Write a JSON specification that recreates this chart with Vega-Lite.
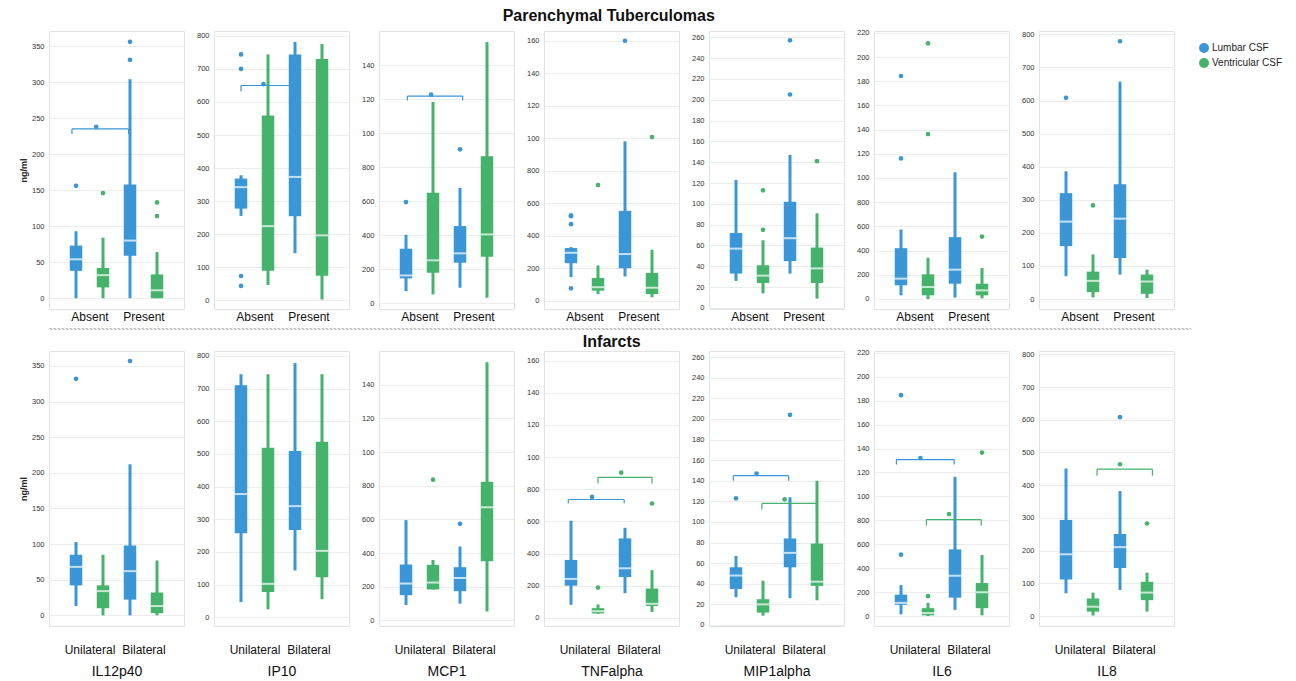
{
"$schema":"https://vega.github.io/schema/vega-lite/v6.json",
"padding":{"left":18,"top":8,"right":5,"bottom":5},
"config":{"font":"Liberation Sans","view":{"stroke":"#e3e3e3"},
 "range":{"category":["#3a96d6","#45b36b"]},
 "axis":{"ticks":false,"domain":false,"labelFontSize":7.5,"labelColor":"#333","gridColor":"#ececec","titleFontSize":9,"titleFontWeight":"bold","titlePadding":3,"labelPadding":5,"titleColor":"#222","labelOverlap":false},
 "legend":{"orient":"none","legendX":1150,"legendY":12,"symbolType":"circle","symbolSize":100,"labelFontSize":10,"labelColor":"#222","rowPadding":5,"symbolStrokeWidth":0,"title":null,"labelOffset":3}
},
"datasets":{"all":[
{"k":"b","cyt":"IL12p40","grp":"PT","cat":"Absent","csf":"Lumbar CSF","lo":0,"q1":38,"med":54,"q3":73,"hi":93},
{"k":"b","cyt":"IL12p40","grp":"PT","cat":"Absent","csf":"Ventricular CSF","lo":0,"q1":15,"med":32,"q3":42,"hi":84},
{"k":"b","cyt":"IL12p40","grp":"PT","cat":"Present","csf":"Lumbar CSF","lo":0,"q1":59,"med":80,"q3":158,"hi":304},
{"k":"b","cyt":"IL12p40","grp":"PT","cat":"Present","csf":"Ventricular CSF","lo":0,"q1":0,"med":11,"q3":33,"hi":64},
{"k":"o","cyt":"IL12p40","grp":"PT","cat":"Absent","csf":"Lumbar CSF","v":156},
{"k":"o","cyt":"IL12p40","grp":"PT","cat":"Absent","csf":"Ventricular CSF","v":146},
{"k":"o","cyt":"IL12p40","grp":"PT","cat":"Present","csf":"Lumbar CSF","v":356},
{"k":"o","cyt":"IL12p40","grp":"PT","cat":"Present","csf":"Lumbar CSF","v":331},
{"k":"o","cyt":"IL12p40","grp":"PT","cat":"Present","csf":"Ventricular CSF","v":133},
{"k":"o","cyt":"IL12p40","grp":"PT","cat":"Present","csf":"Ventricular CSF","v":114},
{"k":"r","cyt":"IL12p40","grp":"PT","csf":"Lumbar CSF","x1":0.85,"x2":2.95,"xs":1.75,"y":235,"ye":228,"ys":238},

{"k":"b","cyt":"IP10","grp":"PT","cat":"Absent","csf":"Lumbar CSF","lo":255,"q1":277,"med":342,"q3":368,"hi":378},
{"k":"b","cyt":"IP10","grp":"PT","cat":"Absent","csf":"Ventricular CSF","lo":46,"q1":89,"med":224,"q3":559,"hi":744},
{"k":"b","cyt":"IP10","grp":"PT","cat":"Present","csf":"Lumbar CSF","lo":142,"q1":254,"med":373,"q3":744,"hi":782},
{"k":"b","cyt":"IP10","grp":"PT","cat":"Present","csf":"Ventricular CSF","lo":2,"q1":74,"med":196,"q3":730,"hi":776},
{"k":"o","cyt":"IP10","grp":"PT","cat":"Absent","csf":"Lumbar CSF","v":744},
{"k":"o","cyt":"IP10","grp":"PT","cat":"Absent","csf":"Lumbar CSF","v":700},
{"k":"o","cyt":"IP10","grp":"PT","cat":"Absent","csf":"Lumbar CSF","v":73},
{"k":"o","cyt":"IP10","grp":"PT","cat":"Absent","csf":"Lumbar CSF","v":43},
{"k":"r","cyt":"IP10","grp":"PT","csf":"Lumbar CSF","x1":1.0,"x2":3.0,"xs":1.83,"y":650,"ye":632,"ys":654},

{"k":"b","cyt":"MCP1","grp":"PT","cat":"Absent","csf":"Lumbar CSF","lo":72,"q1":147,"med":164,"q3":321,"hi":403},
{"k":"b","cyt":"MCP1","grp":"PT","cat":"Absent","csf":"Ventricular CSF","lo":53,"q1":180,"med":253,"q3":650,"hi":1183},
{"k":"b","cyt":"MCP1","grp":"PT","cat":"Present","csf":"Lumbar CSF","lo":92,"q1":239,"med":294,"q3":454,"hi":679},
{"k":"b","cyt":"MCP1","grp":"PT","cat":"Present","csf":"Ventricular CSF","lo":33,"q1":274,"med":405,"q3":865,"hi":1535},
{"k":"o","cyt":"MCP1","grp":"PT","cat":"Absent","csf":"Lumbar CSF","v":595},
{"k":"o","cyt":"MCP1","grp":"PT","cat":"Present","csf":"Lumbar CSF","v":905},
{"k":"r","cyt":"MCP1","grp":"PT","csf":"Lumbar CSF","x1":1.05,"x2":3.1,"xs":1.93,"y":1218,"ye":1192,"ys":1226},

{"k":"b","cyt":"TNFalpha","grp":"PT","cat":"Absent","csf":"Lumbar CSF","lo":145,"q1":231,"med":295,"q3":324,"hi":330},
{"k":"b","cyt":"TNFalpha","grp":"PT","cat":"Absent","csf":"Ventricular CSF","lo":41,"q1":62,"med":83,"q3":140,"hi":217},
{"k":"b","cyt":"TNFalpha","grp":"PT","cat":"Present","csf":"Lumbar CSF","lo":149,"q1":200,"med":287,"q3":553,"hi":981},
{"k":"b","cyt":"TNFalpha","grp":"PT","cat":"Present","csf":"Ventricular CSF","lo":21,"q1":41,"med":80,"q3":171,"hi":314},
{"k":"o","cyt":"TNFalpha","grp":"PT","cat":"Absent","csf":"Lumbar CSF","v":520},
{"k":"o","cyt":"TNFalpha","grp":"PT","cat":"Absent","csf":"Lumbar CSF","v":526},
{"k":"o","cyt":"TNFalpha","grp":"PT","cat":"Absent","csf":"Lumbar CSF","v":471},
{"k":"o","cyt":"TNFalpha","grp":"PT","cat":"Absent","csf":"Lumbar CSF","v":76},
{"k":"o","cyt":"TNFalpha","grp":"PT","cat":"Absent","csf":"Ventricular CSF","v":712},
{"k":"o","cyt":"TNFalpha","grp":"PT","cat":"Present","csf":"Lumbar CSF","v":1600},
{"k":"o","cyt":"TNFalpha","grp":"PT","cat":"Present","csf":"Ventricular CSF","v":1007},

{"k":"b","cyt":"MIP1alpha","grp":"PT","cat":"Absent","csf":"Lumbar CSF","lo":26,"q1":33,"med":57,"q3":72,"hi":123},
{"k":"b","cyt":"MIP1alpha","grp":"PT","cat":"Absent","csf":"Ventricular CSF","lo":14,"q1":24,"med":31,"q3":41,"hi":65},
{"k":"b","cyt":"MIP1alpha","grp":"PT","cat":"Present","csf":"Lumbar CSF","lo":33,"q1":45,"med":67,"q3":102,"hi":147},
{"k":"b","cyt":"MIP1alpha","grp":"PT","cat":"Present","csf":"Ventricular CSF","lo":9,"q1":24,"med":38,"q3":58,"hi":91},
{"k":"o","cyt":"MIP1alpha","grp":"PT","cat":"Absent","csf":"Ventricular CSF","v":113},
{"k":"o","cyt":"MIP1alpha","grp":"PT","cat":"Absent","csf":"Ventricular CSF","v":75},
{"k":"o","cyt":"MIP1alpha","grp":"PT","cat":"Present","csf":"Lumbar CSF","v":257},
{"k":"o","cyt":"MIP1alpha","grp":"PT","cat":"Present","csf":"Lumbar CSF","v":205},
{"k":"o","cyt":"MIP1alpha","grp":"PT","cat":"Present","csf":"Ventricular CSF","v":141},

{"k":"b","cyt":"IL6","grp":"PT","cat":"Absent","csf":"Lumbar CSF","lo":30,"q1":113,"med":168,"q3":420,"hi":574},
{"k":"b","cyt":"IL6","grp":"PT","cat":"Absent","csf":"Ventricular CSF","lo":0,"q1":30,"med":99,"q3":203,"hi":341},
{"k":"b","cyt":"IL6","grp":"PT","cat":"Present","csf":"Lumbar CSF","lo":11,"q1":126,"med":242,"q3":511,"hi":1047},
{"k":"b","cyt":"IL6","grp":"PT","cat":"Present","csf":"Ventricular CSF","lo":5,"q1":30,"med":71,"q3":126,"hi":255},
{"k":"o","cyt":"IL6","grp":"PT","cat":"Absent","csf":"Lumbar CSF","v":1843},
{"k":"o","cyt":"IL6","grp":"PT","cat":"Absent","csf":"Lumbar CSF","v":1162},
{"k":"o","cyt":"IL6","grp":"PT","cat":"Absent","csf":"Ventricular CSF","v":2113},
{"k":"o","cyt":"IL6","grp":"PT","cat":"Absent","csf":"Ventricular CSF","v":1363},
{"k":"o","cyt":"IL6","grp":"PT","cat":"Present","csf":"Ventricular CSF","v":516},

{"k":"b","cyt":"IL8","grp":"PT","cat":"Absent","csf":"Lumbar CSF","lo":69,"q1":160,"med":234,"q3":320,"hi":386},
{"k":"b","cyt":"IL8","grp":"PT","cat":"Absent","csf":"Ventricular CSF","lo":5,"q1":21,"med":55,"q3":83,"hi":135},
{"k":"b","cyt":"IL8","grp":"PT","cat":"Present","csf":"Lumbar CSF","lo":74,"q1":124,"med":243,"q3":347,"hi":657},
{"k":"b","cyt":"IL8","grp":"PT","cat":"Present","csf":"Ventricular CSF","lo":3,"q1":16,"med":53,"q3":74,"hi":89},
{"k":"o","cyt":"IL8","grp":"PT","cat":"Absent","csf":"Lumbar CSF","v":608},
{"k":"o","cyt":"IL8","grp":"PT","cat":"Absent","csf":"Ventricular CSF","v":283},
{"k":"o","cyt":"IL8","grp":"PT","cat":"Present","csf":"Lumbar CSF","v":779},

{"k":"b","cyt":"IL12p40","grp":"INF","cat":"Unilateral","csf":"Lumbar CSF","lo":13,"q1":42,"med":68,"q3":85,"hi":103},
{"k":"b","cyt":"IL12p40","grp":"INF","cat":"Unilateral","csf":"Ventricular CSF","lo":0,"q1":10,"med":34,"q3":42,"hi":85},
{"k":"b","cyt":"IL12p40","grp":"INF","cat":"Bilateral","csf":"Lumbar CSF","lo":0,"q1":22,"med":62,"q3":98,"hi":212},
{"k":"b","cyt":"IL12p40","grp":"INF","cat":"Bilateral","csf":"Ventricular CSF","lo":0,"q1":3,"med":13,"q3":32,"hi":77},
{"k":"o","cyt":"IL12p40","grp":"INF","cat":"Unilateral","csf":"Lumbar CSF","v":332},
{"k":"o","cyt":"IL12p40","grp":"INF","cat":"Bilateral","csf":"Lumbar CSF","v":357},

{"k":"b","cyt":"IP10","grp":"INF","cat":"Unilateral","csf":"Lumbar CSF","lo":46,"q1":257,"med":377,"q3":710,"hi":744},
{"k":"b","cyt":"IP10","grp":"INF","cat":"Unilateral","csf":"Ventricular CSF","lo":24,"q1":77,"med":102,"q3":519,"hi":744},
{"k":"b","cyt":"IP10","grp":"INF","cat":"Bilateral","csf":"Lumbar CSF","lo":143,"q1":267,"med":340,"q3":509,"hi":778},
{"k":"b","cyt":"IP10","grp":"INF","cat":"Bilateral","csf":"Ventricular CSF","lo":55,"q1":122,"med":203,"q3":537,"hi":744},

{"k":"b","cyt":"MCP1","grp":"INF","cat":"Unilateral","csf":"Lumbar CSF","lo":92,"q1":150,"med":219,"q3":332,"hi":596},
{"k":"b","cyt":"MCP1","grp":"INF","cat":"Unilateral","csf":"Ventricular CSF","lo":184,"q1":184,"med":225,"q3":330,"hi":359},
{"k":"b","cyt":"MCP1","grp":"INF","cat":"Bilateral","csf":"Lumbar CSF","lo":100,"q1":174,"med":252,"q3":316,"hi":439},
{"k":"b","cyt":"MCP1","grp":"INF","cat":"Bilateral","csf":"Ventricular CSF","lo":53,"q1":351,"med":672,"q3":824,"hi":1533},
{"k":"o","cyt":"MCP1","grp":"INF","cat":"Unilateral","csf":"Ventricular CSF","v":836},
{"k":"o","cyt":"MCP1","grp":"INF","cat":"Bilateral","csf":"Lumbar CSF","v":574},

{"k":"b","cyt":"TNFalpha","grp":"INF","cat":"Unilateral","csf":"Lumbar CSF","lo":81,"q1":200,"med":242,"q3":360,"hi":604},
{"k":"b","cyt":"TNFalpha","grp":"INF","cat":"Unilateral","csf":"Ventricular CSF","lo":25,"q1":27,"med":41,"q3":60,"hi":83},
{"k":"b","cyt":"TNFalpha","grp":"INF","cat":"Bilateral","csf":"Lumbar CSF","lo":153,"q1":254,"med":308,"q3":494,"hi":560},
{"k":"b","cyt":"TNFalpha","grp":"INF","cat":"Bilateral","csf":"Ventricular CSF","lo":37,"q1":74,"med":87,"q3":182,"hi":296},
{"k":"o","cyt":"TNFalpha","grp":"INF","cat":"Unilateral","csf":"Ventricular CSF","v":188},
{"k":"o","cyt":"TNFalpha","grp":"INF","cat":"Bilateral","csf":"Ventricular CSF","v":711},
{"k":"r","cyt":"TNFalpha","grp":"INF","csf":"Lumbar CSF","x1":0.9,"x2":2.97,"xs":1.78,"y":736,"ye":713,"ys":752},
{"k":"r","cyt":"TNFalpha","grp":"INF","csf":"Ventricular CSF","x1":2.0,"x2":4.0,"xs":2.86,"y":874,"ye":835,"ys":903},

{"k":"b","cyt":"MIP1alpha","grp":"INF","cat":"Unilateral","csf":"Lumbar CSF","lo":27,"q1":35,"med":48,"q3":56,"hi":67},
{"k":"b","cyt":"MIP1alpha","grp":"INF","cat":"Unilateral","csf":"Ventricular CSF","lo":9,"q1":12,"med":20,"q3":25,"hi":43},
{"k":"b","cyt":"MIP1alpha","grp":"INF","cat":"Bilateral","csf":"Lumbar CSF","lo":26,"q1":56,"med":70,"q3":84,"hi":124},
{"k":"b","cyt":"MIP1alpha","grp":"INF","cat":"Bilateral","csf":"Ventricular CSF","lo":24,"q1":38,"med":42,"q3":79,"hi":140},
{"k":"o","cyt":"MIP1alpha","grp":"INF","cat":"Unilateral","csf":"Lumbar CSF","v":123},
{"k":"o","cyt":"MIP1alpha","grp":"INF","cat":"Bilateral","csf":"Lumbar CSF","v":204},
{"k":"r","cyt":"MIP1alpha","grp":"INF","csf":"Lumbar CSF","x1":0.9,"x2":2.95,"xs":1.76,"y":145,"ye":140,"ys":147},
{"k":"r","cyt":"MIP1alpha","grp":"INF","csf":"Ventricular CSF","x1":1.96,"x2":3.98,"xs":2.8,"y":118,"ye":112,"ys":122},

{"k":"b","cyt":"IL6","grp":"INF","cat":"Unilateral","csf":"Lumbar CSF","lo":14,"q1":94,"med":110,"q3":179,"hi":259},
{"k":"b","cyt":"IL6","grp":"INF","cat":"Unilateral","csf":"Ventricular CSF","lo":0,"q1":6,"med":25,"q3":66,"hi":110},
{"k":"b","cyt":"IL6","grp":"INF","cat":"Bilateral","csf":"Lumbar CSF","lo":52,"q1":154,"med":337,"q3":557,"hi":1164},
{"k":"b","cyt":"IL6","grp":"INF","cat":"Bilateral","csf":"Ventricular CSF","lo":6,"q1":66,"med":199,"q3":276,"hi":510},
{"k":"o","cyt":"IL6","grp":"INF","cat":"Unilateral","csf":"Lumbar CSF","v":1846},
{"k":"o","cyt":"IL6","grp":"INF","cat":"Unilateral","csf":"Lumbar CSF","v":513},
{"k":"o","cyt":"IL6","grp":"INF","cat":"Unilateral","csf":"Ventricular CSF","v":166},
{"k":"o","cyt":"IL6","grp":"INF","cat":"Bilateral","csf":"Ventricular CSF","v":1366},
{"k":"r","cyt":"IL6","grp":"INF","csf":"Lumbar CSF","x1":0.83,"x2":2.97,"xs":1.72,"y":1308,"ye":1266,"ys":1321},
{"k":"r","cyt":"IL6","grp":"INF","csf":"Ventricular CSF","x1":1.94,"x2":3.97,"xs":2.78,"y":806,"ye":756,"ys":852},

{"k":"b","cyt":"IL8","grp":"INF","cat":"Unilateral","csf":"Lumbar CSF","lo":70,"q1":112,"med":189,"q3":294,"hi":451},
{"k":"b","cyt":"IL8","grp":"INF","cat":"Unilateral","csf":"Ventricular CSF","lo":2,"q1":14,"med":29,"q3":54,"hi":72},
{"k":"b","cyt":"IL8","grp":"INF","cat":"Bilateral","csf":"Lumbar CSF","lo":80,"q1":147,"med":211,"q3":251,"hi":382},
{"k":"b","cyt":"IL8","grp":"INF","cat":"Bilateral","csf":"Ventricular CSF","lo":14,"q1":49,"med":72,"q3":105,"hi":133},
{"k":"o","cyt":"IL8","grp":"INF","cat":"Bilateral","csf":"Lumbar CSF","v":608},
{"k":"o","cyt":"IL8","grp":"INF","cat":"Bilateral","csf":"Ventricular CSF","v":283},
{"k":"r","cyt":"IL8","grp":"INF","csf":"Ventricular CSF","x1":2.15,"x2":4.2,"xs":3.0,"y":449,"ye":429,"ys":464}
]},
"data":{"name":"all"},
"resolve":{"scale":{"x":"independent","y":"independent","color":"shared"}},
"spacing":2,
"vconcat":[
{"title":{"text":"Parenchymal Tuberculomas","fontSize":16,"fontWeight":"bold","anchor":"middle","offset":4,"dx":12,"color":"#111"},
 "resolve":{"scale":{"x":"independent","y":"independent","color":"shared"}},
 "spacing":10,
 "hconcat":[
 {"width":135,"height":278,
  "transform":[{"filter":"datum.cyt=='IL12p40'&&datum.grp=='PT'"},{"calculate":"(datum.cat=='Absent'||datum.cat=='Unilateral'?1:3)+(datum.csf=='Ventricular CSF'?1:0)","as":"slot"}],
  "layer":[
   {"transform":[{"filter":"datum.k=='b'"}],"mark":{"type":"bar","size":12.5},"encoding":{"x":{"field":"slot","type":"quantitative","scale":{"domain":[0.25,4.75]},"axis":{"values":[1.5,3.5],"labelExpr":"datum.value<2?'Absent':'Present'","title":null,"grid":false,"labelFontSize":12,"labelPadding":2,"labelColor":"#111","labelOverlap":false,"labelFlush":false}},"y":{"field":"q1","type":"quantitative","scale":{"domain":[-15,371],"nice":false,"zero":false},"axis":{"values":[0,50,100,150,200,250,300,350],"title":"ng/ml","labelOverlap":false,"tickCount":30}},"y2":{"field":"q3"},"color":{"field":"csf","type":"nominal","title":null}}},
   {"transform":[{"filter":"datum.k=='b'"}],"mark":{"type":"rule","strokeWidth":3},"encoding":{"x":{"field":"slot","type":"quantitative"},"y":{"field":"lo","type":"quantitative"},"y2":{"field":"hi"},"color":{"field":"csf","type":"nominal","title":null}}},
   {"transform":[{"filter":"datum.k=='b'"}],"mark":{"type":"tick","orient":"horizontal","color":"white","thickness":2,"size":12.5},"encoding":{"x":{"field":"slot","type":"quantitative"},"y":{"field":"med","type":"quantitative"}}},
   {"transform":[{"filter":"datum.k=='o'"}],"mark":{"type":"circle","size":22,"opacity":1},"encoding":{"x":{"field":"slot","type":"quantitative"},"y":{"field":"v","type":"quantitative"},"color":{"field":"csf","type":"nominal","title":null}}},
   {"transform":[{"filter":"datum.k=='r'"}],"mark":{"type":"rule","strokeWidth":1.2},"encoding":{"x":{"field":"x1","type":"quantitative"},"x2":{"field":"x2"},"y":{"field":"y","type":"quantitative"},"color":{"field":"csf","type":"nominal","title":null}}},
   {"transform":[{"filter":"datum.k=='r'"}],"mark":{"type":"rule","strokeWidth":1.2},"encoding":{"x":{"field":"x1","type":"quantitative"},"y":{"field":"y","type":"quantitative"},"y2":{"field":"ye"},"color":{"field":"csf","type":"nominal","title":null}}},
   {"transform":[{"filter":"datum.k=='r'"}],"mark":{"type":"rule","strokeWidth":1.2},"encoding":{"x":{"field":"x2","type":"quantitative"},"y":{"field":"y","type":"quantitative"},"y2":{"field":"ye"},"color":{"field":"csf","type":"nominal","title":null}}},
   {"transform":[{"filter":"datum.k=='r'"}],"mark":{"type":"circle","size":22,"opacity":1},"encoding":{"x":{"field":"xs","type":"quantitative"},"y":{"field":"ys","type":"quantitative"},"color":{"field":"csf","type":"nominal","title":null}}}
  ]},
 {"width":135,"height":278,
  "transform":[{"filter":"datum.cyt=='IP10'&&datum.grp=='PT'"},{"calculate":"(datum.cat=='Absent'||datum.cat=='Unilateral'?1:3)+(datum.csf=='Ventricular CSF'?1:0)","as":"slot"}],
  "layer":[
   {"transform":[{"filter":"datum.k=='b'"}],"mark":{"type":"bar","size":12.5},"encoding":{"x":{"field":"slot","type":"quantitative","scale":{"domain":[0.25,4.75]},"axis":{"values":[1.5,3.5],"labelExpr":"datum.value<2?'Absent':'Present'","title":null,"grid":false,"labelFontSize":12,"labelPadding":2,"labelColor":"#111","labelOverlap":false,"labelFlush":false}},"y":{"field":"q1","type":"quantitative","scale":{"domain":[-27,815],"nice":false,"zero":false},"axis":{"values":[0,100,200,300,400,500,600,700,800],"title":null,"labelOverlap":false,"tickCount":30}},"y2":{"field":"q3"},"color":{"field":"csf","type":"nominal","title":null}}},
   {"transform":[{"filter":"datum.k=='b'"}],"mark":{"type":"rule","strokeWidth":3},"encoding":{"x":{"field":"slot","type":"quantitative"},"y":{"field":"lo","type":"quantitative"},"y2":{"field":"hi"},"color":{"field":"csf","type":"nominal","title":null}}},
   {"transform":[{"filter":"datum.k=='b'"}],"mark":{"type":"tick","orient":"horizontal","color":"white","thickness":2,"size":12.5},"encoding":{"x":{"field":"slot","type":"quantitative"},"y":{"field":"med","type":"quantitative"}}},
   {"transform":[{"filter":"datum.k=='o'"}],"mark":{"type":"circle","size":22,"opacity":1},"encoding":{"x":{"field":"slot","type":"quantitative"},"y":{"field":"v","type":"quantitative"},"color":{"field":"csf","type":"nominal","title":null}}},
   {"transform":[{"filter":"datum.k=='r'"}],"mark":{"type":"rule","strokeWidth":1.2},"encoding":{"x":{"field":"x1","type":"quantitative"},"x2":{"field":"x2"},"y":{"field":"y","type":"quantitative"},"color":{"field":"csf","type":"nominal","title":null}}},
   {"transform":[{"filter":"datum.k=='r'"}],"mark":{"type":"rule","strokeWidth":1.2},"encoding":{"x":{"field":"x1","type":"quantitative"},"y":{"field":"y","type":"quantitative"},"y2":{"field":"ye"},"color":{"field":"csf","type":"nominal","title":null}}},
   {"transform":[{"filter":"datum.k=='r'"}],"mark":{"type":"rule","strokeWidth":1.2},"encoding":{"x":{"field":"x2","type":"quantitative"},"y":{"field":"y","type":"quantitative"},"y2":{"field":"ye"},"color":{"field":"csf","type":"nominal","title":null}}},
   {"transform":[{"filter":"datum.k=='r'"}],"mark":{"type":"circle","size":22,"opacity":1},"encoding":{"x":{"field":"xs","type":"quantitative"},"y":{"field":"ys","type":"quantitative"},"color":{"field":"csf","type":"nominal","title":null}}}
  ]},
 {"width":135,"height":278,
  "transform":[{"filter":"datum.cyt=='MCP1'&&datum.grp=='PT'"},{"calculate":"(datum.cat=='Absent'||datum.cat=='Unilateral'?1:3)+(datum.csf=='Ventricular CSF'?1:0)","as":"slot"}],
  "layer":[
   {"transform":[{"filter":"datum.k=='b'"}],"mark":{"type":"bar","size":12.5},"encoding":{"x":{"field":"slot","type":"quantitative","scale":{"domain":[0.25,4.75]},"axis":{"values":[1.5,3.5],"labelExpr":"datum.value<2?'Absent':'Present'","title":null,"grid":false,"labelFontSize":12,"labelPadding":2,"labelColor":"#111","labelOverlap":false,"labelFlush":false}},"y":{"field":"q1","type":"quantitative","scale":{"domain":[-33,1600],"nice":false,"zero":false},"axis":{"values":[0,200,400,600,800,1000,1200,1400],"labelExpr":"datum.value>=1000?substring(toString(datum.value),0,3):datum.label","title":null,"labelOverlap":false,"tickCount":30}},"y2":{"field":"q3"},"color":{"field":"csf","type":"nominal","title":null}}},
   {"transform":[{"filter":"datum.k=='b'"}],"mark":{"type":"rule","strokeWidth":3},"encoding":{"x":{"field":"slot","type":"quantitative"},"y":{"field":"lo","type":"quantitative"},"y2":{"field":"hi"},"color":{"field":"csf","type":"nominal","title":null}}},
   {"transform":[{"filter":"datum.k=='b'"}],"mark":{"type":"tick","orient":"horizontal","color":"white","thickness":2,"size":12.5},"encoding":{"x":{"field":"slot","type":"quantitative"},"y":{"field":"med","type":"quantitative"}}},
   {"transform":[{"filter":"datum.k=='o'"}],"mark":{"type":"circle","size":22,"opacity":1},"encoding":{"x":{"field":"slot","type":"quantitative"},"y":{"field":"v","type":"quantitative"},"color":{"field":"csf","type":"nominal","title":null}}},
   {"transform":[{"filter":"datum.k=='r'"}],"mark":{"type":"rule","strokeWidth":1.2},"encoding":{"x":{"field":"x1","type":"quantitative"},"x2":{"field":"x2"},"y":{"field":"y","type":"quantitative"},"color":{"field":"csf","type":"nominal","title":null}}},
   {"transform":[{"filter":"datum.k=='r'"}],"mark":{"type":"rule","strokeWidth":1.2},"encoding":{"x":{"field":"x1","type":"quantitative"},"y":{"field":"y","type":"quantitative"},"y2":{"field":"ye"},"color":{"field":"csf","type":"nominal","title":null}}},
   {"transform":[{"filter":"datum.k=='r'"}],"mark":{"type":"rule","strokeWidth":1.2},"encoding":{"x":{"field":"x2","type":"quantitative"},"y":{"field":"y","type":"quantitative"},"y2":{"field":"ye"},"color":{"field":"csf","type":"nominal","title":null}}},
   {"transform":[{"filter":"datum.k=='r'"}],"mark":{"type":"circle","size":22,"opacity":1},"encoding":{"x":{"field":"xs","type":"quantitative"},"y":{"field":"ys","type":"quantitative"},"color":{"field":"csf","type":"nominal","title":null}}}
  ]},
 {"width":135,"height":278,
  "transform":[{"filter":"datum.cyt=='TNFalpha'&&datum.grp=='PT'"},{"calculate":"(datum.cat=='Absent'||datum.cat=='Unilateral'?1:3)+(datum.csf=='Ventricular CSF'?1:0)","as":"slot"}],
  "layer":[
   {"transform":[{"filter":"datum.k=='b'"}],"mark":{"type":"bar","size":12.5},"encoding":{"x":{"field":"slot","type":"quantitative","scale":{"domain":[0.25,4.75]},"axis":{"values":[1.5,3.5],"labelExpr":"datum.value<2?'Absent':'Present'","title":null,"grid":false,"labelFontSize":12,"labelPadding":2,"labelColor":"#111","labelOverlap":false,"labelFlush":false}},"y":{"field":"q1","type":"quantitative","scale":{"domain":[-51,1660],"nice":false,"zero":false},"axis":{"values":[0,200,400,600,800,1000,1200,1400,1600],"labelExpr":"datum.value>=1000?substring(toString(datum.value),0,3):datum.label","title":null,"labelOverlap":false,"tickCount":30}},"y2":{"field":"q3"},"color":{"field":"csf","type":"nominal","title":null}}},
   {"transform":[{"filter":"datum.k=='b'"}],"mark":{"type":"rule","strokeWidth":3},"encoding":{"x":{"field":"slot","type":"quantitative"},"y":{"field":"lo","type":"quantitative"},"y2":{"field":"hi"},"color":{"field":"csf","type":"nominal","title":null}}},
   {"transform":[{"filter":"datum.k=='b'"}],"mark":{"type":"tick","orient":"horizontal","color":"white","thickness":2,"size":12.5},"encoding":{"x":{"field":"slot","type":"quantitative"},"y":{"field":"med","type":"quantitative"}}},
   {"transform":[{"filter":"datum.k=='o'"}],"mark":{"type":"circle","size":22,"opacity":1},"encoding":{"x":{"field":"slot","type":"quantitative"},"y":{"field":"v","type":"quantitative"},"color":{"field":"csf","type":"nominal","title":null}}},
   {"transform":[{"filter":"datum.k=='r'"}],"mark":{"type":"rule","strokeWidth":1.2},"encoding":{"x":{"field":"x1","type":"quantitative"},"x2":{"field":"x2"},"y":{"field":"y","type":"quantitative"},"color":{"field":"csf","type":"nominal","title":null}}},
   {"transform":[{"filter":"datum.k=='r'"}],"mark":{"type":"rule","strokeWidth":1.2},"encoding":{"x":{"field":"x1","type":"quantitative"},"y":{"field":"y","type":"quantitative"},"y2":{"field":"ye"},"color":{"field":"csf","type":"nominal","title":null}}},
   {"transform":[{"filter":"datum.k=='r'"}],"mark":{"type":"rule","strokeWidth":1.2},"encoding":{"x":{"field":"x2","type":"quantitative"},"y":{"field":"y","type":"quantitative"},"y2":{"field":"ye"},"color":{"field":"csf","type":"nominal","title":null}}},
   {"transform":[{"filter":"datum.k=='r'"}],"mark":{"type":"circle","size":22,"opacity":1},"encoding":{"x":{"field":"xs","type":"quantitative"},"y":{"field":"ys","type":"quantitative"},"color":{"field":"csf","type":"nominal","title":null}}}
  ]},
 {"width":135,"height":278,
  "transform":[{"filter":"datum.cyt=='MIP1alpha'&&datum.grp=='PT'"},{"calculate":"(datum.cat=='Absent'||datum.cat=='Unilateral'?1:3)+(datum.csf=='Ventricular CSF'?1:0)","as":"slot"}],
  "layer":[
   {"transform":[{"filter":"datum.k=='b'"}],"mark":{"type":"bar","size":12.5},"encoding":{"x":{"field":"slot","type":"quantitative","scale":{"domain":[0.25,4.75]},"axis":{"values":[1.5,3.5],"labelExpr":"datum.value<2?'Absent':'Present'","title":null,"grid":false,"labelFontSize":12,"labelPadding":2,"labelColor":"#111","labelOverlap":false,"labelFlush":false}},"y":{"field":"q1","type":"quantitative","scale":{"domain":[-1,266],"nice":false,"zero":false},"axis":{"values":[0,20,40,60,80,100,120,140,160,180,200,220,240,260],"title":null,"labelOverlap":false,"tickCount":30}},"y2":{"field":"q3"},"color":{"field":"csf","type":"nominal","title":null}}},
   {"transform":[{"filter":"datum.k=='b'"}],"mark":{"type":"rule","strokeWidth":3},"encoding":{"x":{"field":"slot","type":"quantitative"},"y":{"field":"lo","type":"quantitative"},"y2":{"field":"hi"},"color":{"field":"csf","type":"nominal","title":null}}},
   {"transform":[{"filter":"datum.k=='b'"}],"mark":{"type":"tick","orient":"horizontal","color":"white","thickness":2,"size":12.5},"encoding":{"x":{"field":"slot","type":"quantitative"},"y":{"field":"med","type":"quantitative"}}},
   {"transform":[{"filter":"datum.k=='o'"}],"mark":{"type":"circle","size":22,"opacity":1},"encoding":{"x":{"field":"slot","type":"quantitative"},"y":{"field":"v","type":"quantitative"},"color":{"field":"csf","type":"nominal","title":null}}},
   {"transform":[{"filter":"datum.k=='r'"}],"mark":{"type":"rule","strokeWidth":1.2},"encoding":{"x":{"field":"x1","type":"quantitative"},"x2":{"field":"x2"},"y":{"field":"y","type":"quantitative"},"color":{"field":"csf","type":"nominal","title":null}}},
   {"transform":[{"filter":"datum.k=='r'"}],"mark":{"type":"rule","strokeWidth":1.2},"encoding":{"x":{"field":"x1","type":"quantitative"},"y":{"field":"y","type":"quantitative"},"y2":{"field":"ye"},"color":{"field":"csf","type":"nominal","title":null}}},
   {"transform":[{"filter":"datum.k=='r'"}],"mark":{"type":"rule","strokeWidth":1.2},"encoding":{"x":{"field":"x2","type":"quantitative"},"y":{"field":"y","type":"quantitative"},"y2":{"field":"ye"},"color":{"field":"csf","type":"nominal","title":null}}},
   {"transform":[{"filter":"datum.k=='r'"}],"mark":{"type":"circle","size":22,"opacity":1},"encoding":{"x":{"field":"xs","type":"quantitative"},"y":{"field":"ys","type":"quantitative"},"color":{"field":"csf","type":"nominal","title":null}}}
  ]},
 {"width":135,"height":278,
  "transform":[{"filter":"datum.cyt=='IL6'&&datum.grp=='PT'"},{"calculate":"(datum.cat=='Absent'||datum.cat=='Unilateral'?1:3)+(datum.csf=='Ventricular CSF'?1:0)","as":"slot"}],
  "layer":[
   {"transform":[{"filter":"datum.k=='b'"}],"mark":{"type":"bar","size":12.5},"encoding":{"x":{"field":"slot","type":"quantitative","scale":{"domain":[0.25,4.75]},"axis":{"values":[1.5,3.5],"labelExpr":"datum.value<2?'Absent':'Present'","title":null,"grid":false,"labelFontSize":12,"labelPadding":2,"labelColor":"#111","labelOverlap":false,"labelFlush":false}},"y":{"field":"q1","type":"quantitative","scale":{"domain":[-83,2215],"nice":false,"zero":false},"axis":{"values":[0,200,400,600,800,1000,1200,1400,1600,1800,2000,2200],"labelExpr":"datum.value>=1000?substring(toString(datum.value),0,3):datum.label","title":null,"labelOverlap":false,"tickCount":30}},"y2":{"field":"q3"},"color":{"field":"csf","type":"nominal","title":null}}},
   {"transform":[{"filter":"datum.k=='b'"}],"mark":{"type":"rule","strokeWidth":3},"encoding":{"x":{"field":"slot","type":"quantitative"},"y":{"field":"lo","type":"quantitative"},"y2":{"field":"hi"},"color":{"field":"csf","type":"nominal","title":null}}},
   {"transform":[{"filter":"datum.k=='b'"}],"mark":{"type":"tick","orient":"horizontal","color":"white","thickness":2,"size":12.5},"encoding":{"x":{"field":"slot","type":"quantitative"},"y":{"field":"med","type":"quantitative"}}},
   {"transform":[{"filter":"datum.k=='o'"}],"mark":{"type":"circle","size":22,"opacity":1},"encoding":{"x":{"field":"slot","type":"quantitative"},"y":{"field":"v","type":"quantitative"},"color":{"field":"csf","type":"nominal","title":null}}},
   {"transform":[{"filter":"datum.k=='r'"}],"mark":{"type":"rule","strokeWidth":1.2},"encoding":{"x":{"field":"x1","type":"quantitative"},"x2":{"field":"x2"},"y":{"field":"y","type":"quantitative"},"color":{"field":"csf","type":"nominal","title":null}}},
   {"transform":[{"filter":"datum.k=='r'"}],"mark":{"type":"rule","strokeWidth":1.2},"encoding":{"x":{"field":"x1","type":"quantitative"},"y":{"field":"y","type":"quantitative"},"y2":{"field":"ye"},"color":{"field":"csf","type":"nominal","title":null}}},
   {"transform":[{"filter":"datum.k=='r'"}],"mark":{"type":"rule","strokeWidth":1.2},"encoding":{"x":{"field":"x2","type":"quantitative"},"y":{"field":"y","type":"quantitative"},"y2":{"field":"ye"},"color":{"field":"csf","type":"nominal","title":null}}},
   {"transform":[{"filter":"datum.k=='r'"}],"mark":{"type":"circle","size":22,"opacity":1},"encoding":{"x":{"field":"xs","type":"quantitative"},"y":{"field":"ys","type":"quantitative"},"color":{"field":"csf","type":"nominal","title":null}}}
  ]},
 {"width":135,"height":278,
  "transform":[{"filter":"datum.cyt=='IL8'&&datum.grp=='PT'"},{"calculate":"(datum.cat=='Absent'||datum.cat=='Unilateral'?1:3)+(datum.csf=='Ventricular CSF'?1:0)","as":"slot"}],
  "layer":[
   {"transform":[{"filter":"datum.k=='b'"}],"mark":{"type":"bar","size":12.5},"encoding":{"x":{"field":"slot","type":"quantitative","scale":{"domain":[0.25,4.75]},"axis":{"values":[1.5,3.5],"labelExpr":"datum.value<2?'Absent':'Present'","title":null,"grid":false,"labelFontSize":12,"labelPadding":2,"labelColor":"#111","labelOverlap":false,"labelFlush":false}},"y":{"field":"q1","type":"quantitative","scale":{"domain":[-30,810],"nice":false,"zero":false},"axis":{"values":[0,100,200,300,400,500,600,700,800],"title":null,"labelOverlap":false,"tickCount":30}},"y2":{"field":"q3"},"color":{"field":"csf","type":"nominal","title":null}}},
   {"transform":[{"filter":"datum.k=='b'"}],"mark":{"type":"rule","strokeWidth":3},"encoding":{"x":{"field":"slot","type":"quantitative"},"y":{"field":"lo","type":"quantitative"},"y2":{"field":"hi"},"color":{"field":"csf","type":"nominal","title":null}}},
   {"transform":[{"filter":"datum.k=='b'"}],"mark":{"type":"tick","orient":"horizontal","color":"white","thickness":2,"size":12.5},"encoding":{"x":{"field":"slot","type":"quantitative"},"y":{"field":"med","type":"quantitative"}}},
   {"transform":[{"filter":"datum.k=='o'"}],"mark":{"type":"circle","size":22,"opacity":1},"encoding":{"x":{"field":"slot","type":"quantitative"},"y":{"field":"v","type":"quantitative"},"color":{"field":"csf","type":"nominal","title":null}}},
   {"transform":[{"filter":"datum.k=='r'"}],"mark":{"type":"rule","strokeWidth":1.2},"encoding":{"x":{"field":"x1","type":"quantitative"},"x2":{"field":"x2"},"y":{"field":"y","type":"quantitative"},"color":{"field":"csf","type":"nominal","title":null}}},
   {"transform":[{"filter":"datum.k=='r'"}],"mark":{"type":"rule","strokeWidth":1.2},"encoding":{"x":{"field":"x1","type":"quantitative"},"y":{"field":"y","type":"quantitative"},"y2":{"field":"ye"},"color":{"field":"csf","type":"nominal","title":null}}},
   {"transform":[{"filter":"datum.k=='r'"}],"mark":{"type":"rule","strokeWidth":1.2},"encoding":{"x":{"field":"x2","type":"quantitative"},"y":{"field":"y","type":"quantitative"},"y2":{"field":"ye"},"color":{"field":"csf","type":"nominal","title":null}}},
   {"transform":[{"filter":"datum.k=='r'"}],"mark":{"type":"circle","size":22,"opacity":1},"encoding":{"x":{"field":"xs","type":"quantitative"},"y":{"field":"ys","type":"quantitative"},"color":{"field":"csf","type":"nominal","title":null}}}
  ]}
 ]},
{"width":1141,"height":1,"data":{"values":[{"a":1}]},"mark":{"type":"point","opacity":0},"encoding":{},"view":{"stroke":"#b5b5b5","strokeDash":[2,2],"strokeWidth":1}},
{"title":{"text":"Infarcts","fontSize":16,"fontWeight":"bold","anchor":"middle","offset":-2,"dx":15,"color":"#111"},
 "resolve":{"scale":{"x":"independent","y":"independent","color":"shared"}},
 "spacing":10,
 "hconcat":[
 {"width":135,"height":275,
  "transform":[{"filter":"datum.cyt=='IL12p40'&&datum.grp=='INF'"},{"calculate":"(datum.cat=='Absent'||datum.cat=='Unilateral'?1:3)+(datum.csf=='Ventricular CSF'?1:0)","as":"slot"}],
  "layer":[
   {"transform":[{"filter":"datum.k=='b'"}],"mark":{"type":"bar","size":12.5},"encoding":{"x":{"field":"slot","type":"quantitative","scale":{"domain":[0.25,4.75]},"axis":{"values":[1.5,3.5],"labelExpr":"datum.value<2?'Unilateral':'Bilateral'","title":"IL12p40","grid":false,"labelFontSize":12,"labelPadding":18,"labelColor":"#111","labelOverlap":false,"labelFlush":false,"titleFontSize":14,"titleFontWeight":"normal","titlePadding":9,"titleColor":"#111"}},"y":{"field":"q1","type":"quantitative","scale":{"domain":[-15,371],"nice":false,"zero":false},"axis":{"values":[0,50,100,150,200,250,300,350],"title":"ng/ml","labelOverlap":false,"tickCount":30}},"y2":{"field":"q3"},"color":{"field":"csf","type":"nominal","title":null}}},
   {"transform":[{"filter":"datum.k=='b'"}],"mark":{"type":"rule","strokeWidth":3},"encoding":{"x":{"field":"slot","type":"quantitative"},"y":{"field":"lo","type":"quantitative"},"y2":{"field":"hi"},"color":{"field":"csf","type":"nominal","title":null}}},
   {"transform":[{"filter":"datum.k=='b'"}],"mark":{"type":"tick","orient":"horizontal","color":"white","thickness":2,"size":12.5},"encoding":{"x":{"field":"slot","type":"quantitative"},"y":{"field":"med","type":"quantitative"}}},
   {"transform":[{"filter":"datum.k=='o'"}],"mark":{"type":"circle","size":22,"opacity":1},"encoding":{"x":{"field":"slot","type":"quantitative"},"y":{"field":"v","type":"quantitative"},"color":{"field":"csf","type":"nominal","title":null}}},
   {"transform":[{"filter":"datum.k=='r'"}],"mark":{"type":"rule","strokeWidth":1.2},"encoding":{"x":{"field":"x1","type":"quantitative"},"x2":{"field":"x2"},"y":{"field":"y","type":"quantitative"},"color":{"field":"csf","type":"nominal","title":null}}},
   {"transform":[{"filter":"datum.k=='r'"}],"mark":{"type":"rule","strokeWidth":1.2},"encoding":{"x":{"field":"x1","type":"quantitative"},"y":{"field":"y","type":"quantitative"},"y2":{"field":"ye"},"color":{"field":"csf","type":"nominal","title":null}}},
   {"transform":[{"filter":"datum.k=='r'"}],"mark":{"type":"rule","strokeWidth":1.2},"encoding":{"x":{"field":"x2","type":"quantitative"},"y":{"field":"y","type":"quantitative"},"y2":{"field":"ye"},"color":{"field":"csf","type":"nominal","title":null}}},
   {"transform":[{"filter":"datum.k=='r'"}],"mark":{"type":"circle","size":22,"opacity":1},"encoding":{"x":{"field":"xs","type":"quantitative"},"y":{"field":"ys","type":"quantitative"},"color":{"field":"csf","type":"nominal","title":null}}}
  ]},
 {"width":135,"height":275,
  "transform":[{"filter":"datum.cyt=='IP10'&&datum.grp=='INF'"},{"calculate":"(datum.cat=='Absent'||datum.cat=='Unilateral'?1:3)+(datum.csf=='Ventricular CSF'?1:0)","as":"slot"}],
  "layer":[
   {"transform":[{"filter":"datum.k=='b'"}],"mark":{"type":"bar","size":12.5},"encoding":{"x":{"field":"slot","type":"quantitative","scale":{"domain":[0.25,4.75]},"axis":{"values":[1.5,3.5],"labelExpr":"datum.value<2?'Unilateral':'Bilateral'","title":"IP10","grid":false,"labelFontSize":12,"labelPadding":18,"labelColor":"#111","labelOverlap":false,"labelFlush":false,"titleFontSize":14,"titleFontWeight":"normal","titlePadding":9,"titleColor":"#111"}},"y":{"field":"q1","type":"quantitative","scale":{"domain":[-27,815],"nice":false,"zero":false},"axis":{"values":[0,100,200,300,400,500,600,700,800],"title":null,"labelOverlap":false,"tickCount":30}},"y2":{"field":"q3"},"color":{"field":"csf","type":"nominal","title":null}}},
   {"transform":[{"filter":"datum.k=='b'"}],"mark":{"type":"rule","strokeWidth":3},"encoding":{"x":{"field":"slot","type":"quantitative"},"y":{"field":"lo","type":"quantitative"},"y2":{"field":"hi"},"color":{"field":"csf","type":"nominal","title":null}}},
   {"transform":[{"filter":"datum.k=='b'"}],"mark":{"type":"tick","orient":"horizontal","color":"white","thickness":2,"size":12.5},"encoding":{"x":{"field":"slot","type":"quantitative"},"y":{"field":"med","type":"quantitative"}}},
   {"transform":[{"filter":"datum.k=='o'"}],"mark":{"type":"circle","size":22,"opacity":1},"encoding":{"x":{"field":"slot","type":"quantitative"},"y":{"field":"v","type":"quantitative"},"color":{"field":"csf","type":"nominal","title":null}}},
   {"transform":[{"filter":"datum.k=='r'"}],"mark":{"type":"rule","strokeWidth":1.2},"encoding":{"x":{"field":"x1","type":"quantitative"},"x2":{"field":"x2"},"y":{"field":"y","type":"quantitative"},"color":{"field":"csf","type":"nominal","title":null}}},
   {"transform":[{"filter":"datum.k=='r'"}],"mark":{"type":"rule","strokeWidth":1.2},"encoding":{"x":{"field":"x1","type":"quantitative"},"y":{"field":"y","type":"quantitative"},"y2":{"field":"ye"},"color":{"field":"csf","type":"nominal","title":null}}},
   {"transform":[{"filter":"datum.k=='r'"}],"mark":{"type":"rule","strokeWidth":1.2},"encoding":{"x":{"field":"x2","type":"quantitative"},"y":{"field":"y","type":"quantitative"},"y2":{"field":"ye"},"color":{"field":"csf","type":"nominal","title":null}}},
   {"transform":[{"filter":"datum.k=='r'"}],"mark":{"type":"circle","size":22,"opacity":1},"encoding":{"x":{"field":"xs","type":"quantitative"},"y":{"field":"ys","type":"quantitative"},"color":{"field":"csf","type":"nominal","title":null}}}
  ]},
 {"width":135,"height":275,
  "transform":[{"filter":"datum.cyt=='MCP1'&&datum.grp=='INF'"},{"calculate":"(datum.cat=='Absent'||datum.cat=='Unilateral'?1:3)+(datum.csf=='Ventricular CSF'?1:0)","as":"slot"}],
  "layer":[
   {"transform":[{"filter":"datum.k=='b'"}],"mark":{"type":"bar","size":12.5},"encoding":{"x":{"field":"slot","type":"quantitative","scale":{"domain":[0.25,4.75]},"axis":{"values":[1.5,3.5],"labelExpr":"datum.value<2?'Unilateral':'Bilateral'","title":"MCP1","grid":false,"labelFontSize":12,"labelPadding":18,"labelColor":"#111","labelOverlap":false,"labelFlush":false,"titleFontSize":14,"titleFontWeight":"normal","titlePadding":9,"titleColor":"#111"}},"y":{"field":"q1","type":"quantitative","scale":{"domain":[-33,1600],"nice":false,"zero":false},"axis":{"values":[0,200,400,600,800,1000,1200,1400],"labelExpr":"datum.value>=1000?substring(toString(datum.value),0,3):datum.label","title":null,"labelOverlap":false,"tickCount":30}},"y2":{"field":"q3"},"color":{"field":"csf","type":"nominal","title":null}}},
   {"transform":[{"filter":"datum.k=='b'"}],"mark":{"type":"rule","strokeWidth":3},"encoding":{"x":{"field":"slot","type":"quantitative"},"y":{"field":"lo","type":"quantitative"},"y2":{"field":"hi"},"color":{"field":"csf","type":"nominal","title":null}}},
   {"transform":[{"filter":"datum.k=='b'"}],"mark":{"type":"tick","orient":"horizontal","color":"white","thickness":2,"size":12.5},"encoding":{"x":{"field":"slot","type":"quantitative"},"y":{"field":"med","type":"quantitative"}}},
   {"transform":[{"filter":"datum.k=='o'"}],"mark":{"type":"circle","size":22,"opacity":1},"encoding":{"x":{"field":"slot","type":"quantitative"},"y":{"field":"v","type":"quantitative"},"color":{"field":"csf","type":"nominal","title":null}}},
   {"transform":[{"filter":"datum.k=='r'"}],"mark":{"type":"rule","strokeWidth":1.2},"encoding":{"x":{"field":"x1","type":"quantitative"},"x2":{"field":"x2"},"y":{"field":"y","type":"quantitative"},"color":{"field":"csf","type":"nominal","title":null}}},
   {"transform":[{"filter":"datum.k=='r'"}],"mark":{"type":"rule","strokeWidth":1.2},"encoding":{"x":{"field":"x1","type":"quantitative"},"y":{"field":"y","type":"quantitative"},"y2":{"field":"ye"},"color":{"field":"csf","type":"nominal","title":null}}},
   {"transform":[{"filter":"datum.k=='r'"}],"mark":{"type":"rule","strokeWidth":1.2},"encoding":{"x":{"field":"x2","type":"quantitative"},"y":{"field":"y","type":"quantitative"},"y2":{"field":"ye"},"color":{"field":"csf","type":"nominal","title":null}}},
   {"transform":[{"filter":"datum.k=='r'"}],"mark":{"type":"circle","size":22,"opacity":1},"encoding":{"x":{"field":"xs","type":"quantitative"},"y":{"field":"ys","type":"quantitative"},"color":{"field":"csf","type":"nominal","title":null}}}
  ]},
 {"width":135,"height":275,
  "transform":[{"filter":"datum.cyt=='TNFalpha'&&datum.grp=='INF'"},{"calculate":"(datum.cat=='Absent'||datum.cat=='Unilateral'?1:3)+(datum.csf=='Ventricular CSF'?1:0)","as":"slot"}],
  "layer":[
   {"transform":[{"filter":"datum.k=='b'"}],"mark":{"type":"bar","size":12.5},"encoding":{"x":{"field":"slot","type":"quantitative","scale":{"domain":[0.25,4.75]},"axis":{"values":[1.5,3.5],"labelExpr":"datum.value<2?'Unilateral':'Bilateral'","title":"TNFalpha","grid":false,"labelFontSize":12,"labelPadding":18,"labelColor":"#111","labelOverlap":false,"labelFlush":false,"titleFontSize":14,"titleFontWeight":"normal","titlePadding":9,"titleColor":"#111"}},"y":{"field":"q1","type":"quantitative","scale":{"domain":[-51,1660],"nice":false,"zero":false},"axis":{"values":[0,200,400,600,800,1000,1200,1400,1600],"labelExpr":"datum.value>=1000?substring(toString(datum.value),0,3):datum.label","title":null,"labelOverlap":false,"tickCount":30}},"y2":{"field":"q3"},"color":{"field":"csf","type":"nominal","title":null}}},
   {"transform":[{"filter":"datum.k=='b'"}],"mark":{"type":"rule","strokeWidth":3},"encoding":{"x":{"field":"slot","type":"quantitative"},"y":{"field":"lo","type":"quantitative"},"y2":{"field":"hi"},"color":{"field":"csf","type":"nominal","title":null}}},
   {"transform":[{"filter":"datum.k=='b'"}],"mark":{"type":"tick","orient":"horizontal","color":"white","thickness":2,"size":12.5},"encoding":{"x":{"field":"slot","type":"quantitative"},"y":{"field":"med","type":"quantitative"}}},
   {"transform":[{"filter":"datum.k=='o'"}],"mark":{"type":"circle","size":22,"opacity":1},"encoding":{"x":{"field":"slot","type":"quantitative"},"y":{"field":"v","type":"quantitative"},"color":{"field":"csf","type":"nominal","title":null}}},
   {"transform":[{"filter":"datum.k=='r'"}],"mark":{"type":"rule","strokeWidth":1.2},"encoding":{"x":{"field":"x1","type":"quantitative"},"x2":{"field":"x2"},"y":{"field":"y","type":"quantitative"},"color":{"field":"csf","type":"nominal","title":null}}},
   {"transform":[{"filter":"datum.k=='r'"}],"mark":{"type":"rule","strokeWidth":1.2},"encoding":{"x":{"field":"x1","type":"quantitative"},"y":{"field":"y","type":"quantitative"},"y2":{"field":"ye"},"color":{"field":"csf","type":"nominal","title":null}}},
   {"transform":[{"filter":"datum.k=='r'"}],"mark":{"type":"rule","strokeWidth":1.2},"encoding":{"x":{"field":"x2","type":"quantitative"},"y":{"field":"y","type":"quantitative"},"y2":{"field":"ye"},"color":{"field":"csf","type":"nominal","title":null}}},
   {"transform":[{"filter":"datum.k=='r'"}],"mark":{"type":"circle","size":22,"opacity":1},"encoding":{"x":{"field":"xs","type":"quantitative"},"y":{"field":"ys","type":"quantitative"},"color":{"field":"csf","type":"nominal","title":null}}}
  ]},
 {"width":135,"height":275,
  "transform":[{"filter":"datum.cyt=='MIP1alpha'&&datum.grp=='INF'"},{"calculate":"(datum.cat=='Absent'||datum.cat=='Unilateral'?1:3)+(datum.csf=='Ventricular CSF'?1:0)","as":"slot"}],
  "layer":[
   {"transform":[{"filter":"datum.k=='b'"}],"mark":{"type":"bar","size":12.5},"encoding":{"x":{"field":"slot","type":"quantitative","scale":{"domain":[0.25,4.75]},"axis":{"values":[1.5,3.5],"labelExpr":"datum.value<2?'Unilateral':'Bilateral'","title":"MIP1alpha","grid":false,"labelFontSize":12,"labelPadding":18,"labelColor":"#111","labelOverlap":false,"labelFlush":false,"titleFontSize":14,"titleFontWeight":"normal","titlePadding":9,"titleColor":"#111"}},"y":{"field":"q1","type":"quantitative","scale":{"domain":[-1,266],"nice":false,"zero":false},"axis":{"values":[0,20,40,60,80,100,120,140,160,180,200,220,240,260],"title":null,"labelOverlap":false,"tickCount":30}},"y2":{"field":"q3"},"color":{"field":"csf","type":"nominal","title":null}}},
   {"transform":[{"filter":"datum.k=='b'"}],"mark":{"type":"rule","strokeWidth":3},"encoding":{"x":{"field":"slot","type":"quantitative"},"y":{"field":"lo","type":"quantitative"},"y2":{"field":"hi"},"color":{"field":"csf","type":"nominal","title":null}}},
   {"transform":[{"filter":"datum.k=='b'"}],"mark":{"type":"tick","orient":"horizontal","color":"white","thickness":2,"size":12.5},"encoding":{"x":{"field":"slot","type":"quantitative"},"y":{"field":"med","type":"quantitative"}}},
   {"transform":[{"filter":"datum.k=='o'"}],"mark":{"type":"circle","size":22,"opacity":1},"encoding":{"x":{"field":"slot","type":"quantitative"},"y":{"field":"v","type":"quantitative"},"color":{"field":"csf","type":"nominal","title":null}}},
   {"transform":[{"filter":"datum.k=='r'"}],"mark":{"type":"rule","strokeWidth":1.2},"encoding":{"x":{"field":"x1","type":"quantitative"},"x2":{"field":"x2"},"y":{"field":"y","type":"quantitative"},"color":{"field":"csf","type":"nominal","title":null}}},
   {"transform":[{"filter":"datum.k=='r'"}],"mark":{"type":"rule","strokeWidth":1.2},"encoding":{"x":{"field":"x1","type":"quantitative"},"y":{"field":"y","type":"quantitative"},"y2":{"field":"ye"},"color":{"field":"csf","type":"nominal","title":null}}},
   {"transform":[{"filter":"datum.k=='r'"}],"mark":{"type":"rule","strokeWidth":1.2},"encoding":{"x":{"field":"x2","type":"quantitative"},"y":{"field":"y","type":"quantitative"},"y2":{"field":"ye"},"color":{"field":"csf","type":"nominal","title":null}}},
   {"transform":[{"filter":"datum.k=='r'"}],"mark":{"type":"circle","size":22,"opacity":1},"encoding":{"x":{"field":"xs","type":"quantitative"},"y":{"field":"ys","type":"quantitative"},"color":{"field":"csf","type":"nominal","title":null}}}
  ]},
 {"width":135,"height":275,
  "transform":[{"filter":"datum.cyt=='IL6'&&datum.grp=='INF'"},{"calculate":"(datum.cat=='Absent'||datum.cat=='Unilateral'?1:3)+(datum.csf=='Ventricular CSF'?1:0)","as":"slot"}],
  "layer":[
   {"transform":[{"filter":"datum.k=='b'"}],"mark":{"type":"bar","size":12.5},"encoding":{"x":{"field":"slot","type":"quantitative","scale":{"domain":[0.25,4.75]},"axis":{"values":[1.5,3.5],"labelExpr":"datum.value<2?'Unilateral':'Bilateral'","title":"IL6","grid":false,"labelFontSize":12,"labelPadding":18,"labelColor":"#111","labelOverlap":false,"labelFlush":false,"titleFontSize":14,"titleFontWeight":"normal","titlePadding":9,"titleColor":"#111"}},"y":{"field":"q1","type":"quantitative","scale":{"domain":[-83,2215],"nice":false,"zero":false},"axis":{"values":[0,200,400,600,800,1000,1200,1400,1600,1800,2000,2200],"labelExpr":"datum.value>=1000?substring(toString(datum.value),0,3):datum.label","title":null,"labelOverlap":false,"tickCount":30}},"y2":{"field":"q3"},"color":{"field":"csf","type":"nominal","title":null}}},
   {"transform":[{"filter":"datum.k=='b'"}],"mark":{"type":"rule","strokeWidth":3},"encoding":{"x":{"field":"slot","type":"quantitative"},"y":{"field":"lo","type":"quantitative"},"y2":{"field":"hi"},"color":{"field":"csf","type":"nominal","title":null}}},
   {"transform":[{"filter":"datum.k=='b'"}],"mark":{"type":"tick","orient":"horizontal","color":"white","thickness":2,"size":12.5},"encoding":{"x":{"field":"slot","type":"quantitative"},"y":{"field":"med","type":"quantitative"}}},
   {"transform":[{"filter":"datum.k=='o'"}],"mark":{"type":"circle","size":22,"opacity":1},"encoding":{"x":{"field":"slot","type":"quantitative"},"y":{"field":"v","type":"quantitative"},"color":{"field":"csf","type":"nominal","title":null}}},
   {"transform":[{"filter":"datum.k=='r'"}],"mark":{"type":"rule","strokeWidth":1.2},"encoding":{"x":{"field":"x1","type":"quantitative"},"x2":{"field":"x2"},"y":{"field":"y","type":"quantitative"},"color":{"field":"csf","type":"nominal","title":null}}},
   {"transform":[{"filter":"datum.k=='r'"}],"mark":{"type":"rule","strokeWidth":1.2},"encoding":{"x":{"field":"x1","type":"quantitative"},"y":{"field":"y","type":"quantitative"},"y2":{"field":"ye"},"color":{"field":"csf","type":"nominal","title":null}}},
   {"transform":[{"filter":"datum.k=='r'"}],"mark":{"type":"rule","strokeWidth":1.2},"encoding":{"x":{"field":"x2","type":"quantitative"},"y":{"field":"y","type":"quantitative"},"y2":{"field":"ye"},"color":{"field":"csf","type":"nominal","title":null}}},
   {"transform":[{"filter":"datum.k=='r'"}],"mark":{"type":"circle","size":22,"opacity":1},"encoding":{"x":{"field":"xs","type":"quantitative"},"y":{"field":"ys","type":"quantitative"},"color":{"field":"csf","type":"nominal","title":null}}}
  ]},
 {"width":135,"height":275,
  "transform":[{"filter":"datum.cyt=='IL8'&&datum.grp=='INF'"},{"calculate":"(datum.cat=='Absent'||datum.cat=='Unilateral'?1:3)+(datum.csf=='Ventricular CSF'?1:0)","as":"slot"}],
  "layer":[
   {"transform":[{"filter":"datum.k=='b'"}],"mark":{"type":"bar","size":12.5},"encoding":{"x":{"field":"slot","type":"quantitative","scale":{"domain":[0.25,4.75]},"axis":{"values":[1.5,3.5],"labelExpr":"datum.value<2?'Unilateral':'Bilateral'","title":"IL8","grid":false,"labelFontSize":12,"labelPadding":18,"labelColor":"#111","labelOverlap":false,"labelFlush":false,"titleFontSize":14,"titleFontWeight":"normal","titlePadding":9,"titleColor":"#111"}},"y":{"field":"q1","type":"quantitative","scale":{"domain":[-30,810],"nice":false,"zero":false},"axis":{"values":[0,100,200,300,400,500,600,700,800],"title":null,"labelOverlap":false,"tickCount":30}},"y2":{"field":"q3"},"color":{"field":"csf","type":"nominal","title":null}}},
   {"transform":[{"filter":"datum.k=='b'"}],"mark":{"type":"rule","strokeWidth":3},"encoding":{"x":{"field":"slot","type":"quantitative"},"y":{"field":"lo","type":"quantitative"},"y2":{"field":"hi"},"color":{"field":"csf","type":"nominal","title":null}}},
   {"transform":[{"filter":"datum.k=='b'"}],"mark":{"type":"tick","orient":"horizontal","color":"white","thickness":2,"size":12.5},"encoding":{"x":{"field":"slot","type":"quantitative"},"y":{"field":"med","type":"quantitative"}}},
   {"transform":[{"filter":"datum.k=='o'"}],"mark":{"type":"circle","size":22,"opacity":1},"encoding":{"x":{"field":"slot","type":"quantitative"},"y":{"field":"v","type":"quantitative"},"color":{"field":"csf","type":"nominal","title":null}}},
   {"transform":[{"filter":"datum.k=='r'"}],"mark":{"type":"rule","strokeWidth":1.2},"encoding":{"x":{"field":"x1","type":"quantitative"},"x2":{"field":"x2"},"y":{"field":"y","type":"quantitative"},"color":{"field":"csf","type":"nominal","title":null}}},
   {"transform":[{"filter":"datum.k=='r'"}],"mark":{"type":"rule","strokeWidth":1.2},"encoding":{"x":{"field":"x1","type":"quantitative"},"y":{"field":"y","type":"quantitative"},"y2":{"field":"ye"},"color":{"field":"csf","type":"nominal","title":null}}},
   {"transform":[{"filter":"datum.k=='r'"}],"mark":{"type":"rule","strokeWidth":1.2},"encoding":{"x":{"field":"x2","type":"quantitative"},"y":{"field":"y","type":"quantitative"},"y2":{"field":"ye"},"color":{"field":"csf","type":"nominal","title":null}}},
   {"transform":[{"filter":"datum.k=='r'"}],"mark":{"type":"circle","size":22,"opacity":1},"encoding":{"x":{"field":"xs","type":"quantitative"},"y":{"field":"ys","type":"quantitative"},"color":{"field":"csf","type":"nominal","title":null}}}
  ]}
 ]}
]
}
